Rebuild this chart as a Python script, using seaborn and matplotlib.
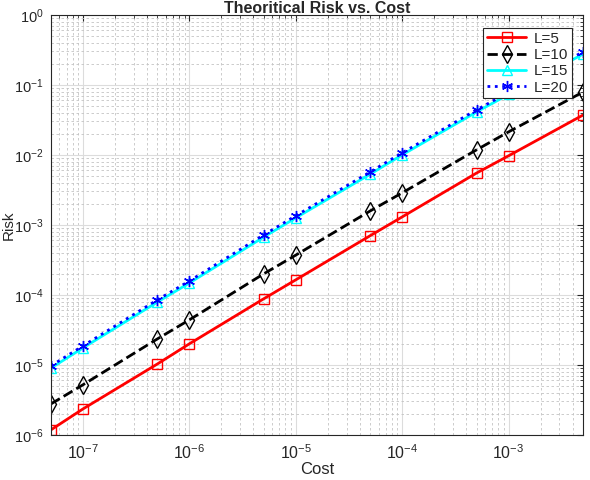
import numpy as np
import matplotlib
matplotlib.use("Agg")
import matplotlib.pyplot as plt
import seaborn as sns
from matplotlib.ticker import LogLocator, NullFormatter

# values
cost = [5e-8, 1e-7, 5e-7, 1e-6, 5e-6, 1e-5, 5e-5, 1e-4, 5e-4, 1e-3, 5e-3]
risk_l5 = [1.18e-6, 2.35e-6, 1.03e-5, 2.0e-5, 8.8e-5, 1.64e-4, 7.0e-4, 1.3e-3, 5.5e-3, 9.7e-3, 3.7e-2]
risk_l10 = [2.77e-6, 5.2e-6, 2.35e-5, 4.4e-5, 2.0e-4, 3.7e-4, 1.58e-3, 2.87e-3, 1.18e-2, 2.13e-2, 7.9e-2]
risk_l15 = [9.0e-6, 1.75e-5, 7.9e-5, 1.48e-4, 6.7e-4, 1.26e-3, 5.3e-3, 1.0e-2, 4.1e-2, 7.3e-2, 0.275]
risk_l20 = [9.7e-6, 1.87e-5, 8.5e-5, 1.58e-4, 7.2e-4, 1.35e-3, 5.7e-3, 1.07e-2, 4.4e-2, 7.8e-2, 0.296]
labels = ["L=5", "L=10", "L=15", "L=20"]
x_ticks = [1e-7, 1e-6, 1e-5, 1e-4, 1e-3]
y_ticks = [1e-6, 1e-5, 1e-4, 1e-3, 1e-2, 1e-1, 1e0]

sns.set_style("white")
plt.rcParams["font.family"] = ["Liberation Sans", "DejaVu Sans"]
plt.rcParams["mathtext.fontset"] = "custom"
plt.rcParams["mathtext.rm"] = "Liberation Sans"
plt.rcParams["mathtext.it"] = "Liberation Sans"
plt.rcParams["mathtext.default"] = "regular"

fig = plt.figure(figsize=(5.9, 4.8), dpi=100)
ax = fig.add_axes([0.0864, 0.094, 0.9016, 0.875])

styles = [
    dict(color="red", linestyle="-", marker="s", markersize=6.5),
    dict(color="black", linestyle="--", marker="d", markersize=9),
    dict(color="cyan", linestyle="-", marker="^", markersize=6.5),
    dict(color="blue", linestyle=":", marker=(6, 2, 0), markersize=8),
]
series = [risk_l5, risk_l10, risk_l15, risk_l20]

for vals, lab, st in zip(series, labels, styles):
    sns.lineplot(x=cost, y=vals, ax=ax, label=lab, color=st["color"],
                 linestyle=st["linestyle"], marker=st["marker"],
                 markersize=st["markersize"], markerfacecolor="none",
                 markeredgecolor=st["color"], markeredgewidth=1.0,
                 linewidth=2.0, estimator=None)

ax.set_xscale("log")
ax.set_yscale("log")
ax.set_xticks(x_ticks)
ax.set_yticks(y_ticks)
ax.set_xlim(5e-8, 5e-3)
ax.set_ylim(1e-6, 1)

ax.xaxis.set_minor_locator(LogLocator(base=10, subs=np.arange(2, 10), numticks=20))
ax.yaxis.set_minor_locator(LogLocator(base=10, subs=np.arange(2, 10), numticks=20))
ax.xaxis.set_minor_formatter(NullFormatter())
ax.yaxis.set_minor_formatter(NullFormatter())

ax.grid(True, which="major", color="#dcdcdc", linestyle="-", linewidth=0.8)
ax.grid(True, which="minor", color="#c4c4c4", linestyle=(0, (3, 3)), linewidth=0.6)
ax.set_axisbelow(True)

ax.tick_params(which="both", direction="in", top=True, right=True,
               colors="#262626", labelsize=11.5)
ax.tick_params(axis="y", labelsize=10.5)
ax.tick_params(which="major", length=4)
ax.tick_params(which="minor", length=2.5)
ax.tick_params(axis="x", which="major", pad=6)
ax.tick_params(axis="y", which="major", pad=5)
for sp in ax.spines.values():
    sp.set_color("#262626")
    sp.set_linewidth(0.8)

ax.set_xlabel("Cost", fontsize=12, labelpad=0)
ax.set_ylabel("Risk", fontsize=11, labelpad=0)
ax.yaxis.set_label_coords(-0.067, 0.5)
ax.set_title("Theoritical Risk vs. Cost", fontsize=11.5, fontweight="bold", pad=1)

leg = ax.legend(loc="upper right", bbox_to_anchor=(0.98, 0.969), fontsize=11,
                frameon=True, fancybox=False, framealpha=1, edgecolor="#262626",
                handlelength=2.6, borderpad=0.25, labelspacing=0.15,
                handletextpad=0.5, borderaxespad=0)
leg.get_frame().set_linewidth(0.8)

fig.savefig("out.png", dpi=100)
